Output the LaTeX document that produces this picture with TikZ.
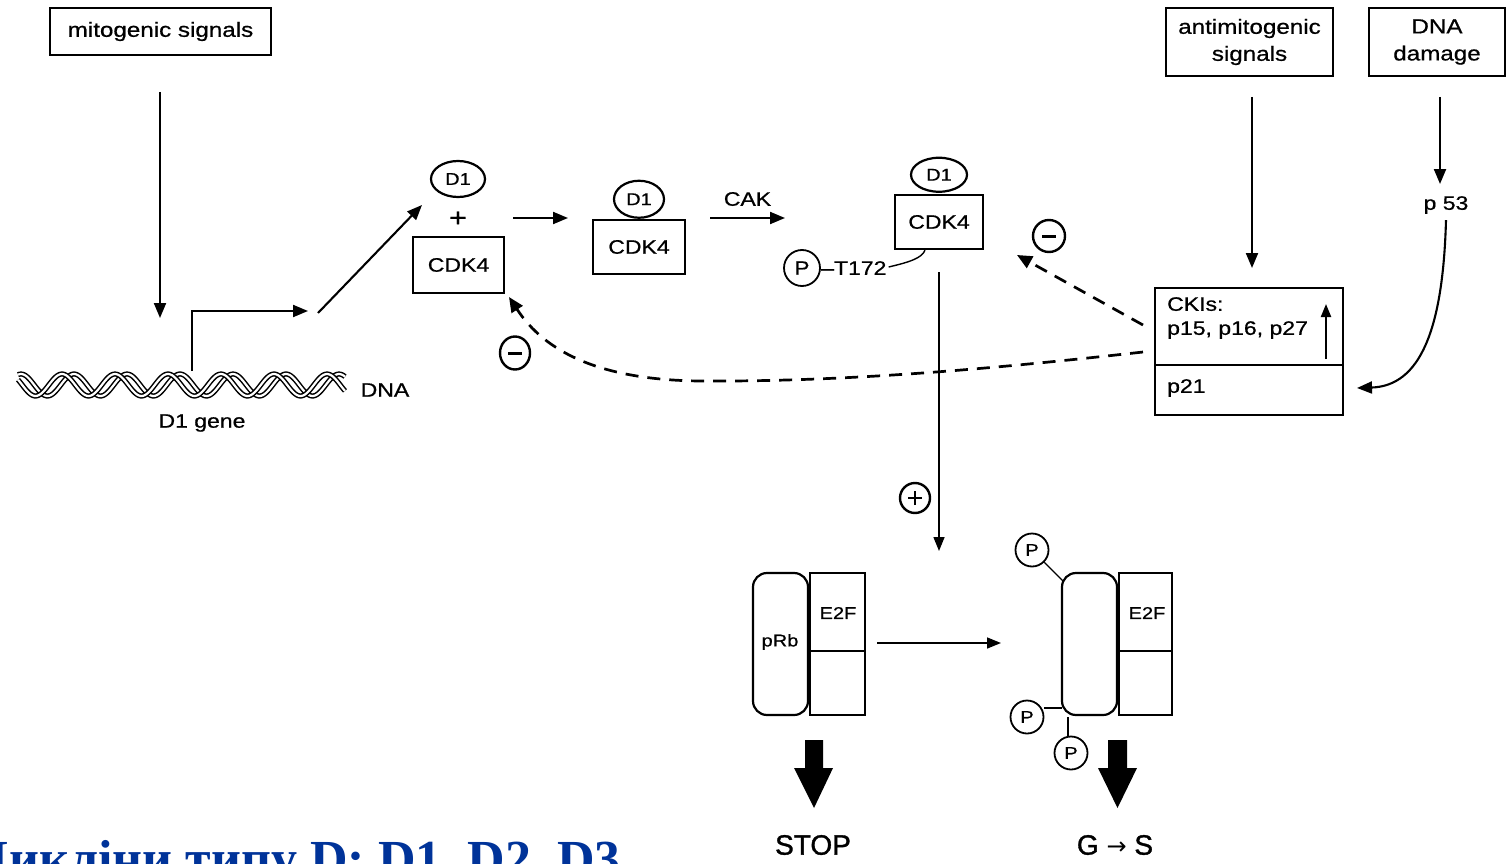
\documentclass[tikz,border=0pt]{standalone}
\usepackage{fontspec}
\setmainfont{Liberation Sans}[FakeStretch=1.18, FakeBold=0.7]
\newfontfamily\plainsans{Liberation Sans}[FakeBold=1.2]
\newfontfamily\arrowfont{DejaVu Sans}
\newfontfamily\titlefont{Liberation Serif}
\usetikzlibrary{arrows.meta,shapes.geometric}
\definecolor{titleblue}{RGB}{0,51,153}
\begin{document}
\begin{tikzpicture}[x=1pt,y=-1pt,
  txt/.style={font=\fontsize{19.5}{23}\selectfont, inner sep=0pt},
  bigtxt/.style={font=\fontsize{20.5}{27}\selectfont, inner sep=0pt, align=center},
  boxn/.style={draw, line width=2.3pt, inner sep=0pt, font=\fontsize{19.5}{23}\selectfont},
  dnode/.style={draw, ellipse, line width=2.2pt, inner sep=0pt, font=\fontsize{17}{20}\selectfont},
  pnode/.style={draw, circle, line width=1.8pt, inner sep=0pt, minimum size=33pt, font=\fontsize{17}{18}\selectfont},
  signnode/.style={draw, circle, line width=2.4pt, inner sep=0pt, minimum size=30pt},
  arr/.style={line width=2.1pt, -{Triangle[length=15pt,width=12pt]}},
  thinarr/.style={line width=1.5pt, -{Triangle[length=14pt,width=11pt]}},
  dasharr/.style={line width=2.7pt, dash pattern=on 13pt off 9pt, -{Triangle[length=15pt,width=13pt]}},
  strand/.style={line width=1.5pt, double=white, double distance=2.2pt},
  bigarrow/.style={fill=black, draw=none}
]
\useasboundingbox (0,0) rectangle (1507,864);
\clip (0,0) rectangle (1507,864);
\fill[white] (0,0) rectangle (1507,864);

% ---------- top signal boxes ----------
\node[boxn, bigtxt, draw, line width=2.3pt, minimum width=221pt, minimum height=47pt] (mito) at (160.5,31.5) {mitogenic signals};
\node[boxn, bigtxt, draw, line width=2.3pt, minimum width=167pt, minimum height=68pt] (anti) at (1249.5,42) {antimitogenic\\signals};
\node[boxn, bigtxt, draw, line width=2.3pt, minimum width=136pt, minimum height=68pt] (dnad) at (1437,42) {DNA\\damage};

% ---------- DNA ----------
\draw[strand] plot[domain=18:345, samples=220] (\x, {385-11*cos(6.79245*(\x-74))});
\draw[strand] plot[domain=18:345, samples=220] (\x, {385-11*cos(6.79245*(\x-62))});
\node[txt] (dna) at (385,390) {DNA};
\node[txt] (gene) at (202,423) {D1 gene};

\coordinate (m1) at (160,92);
\coordinate (m2) at (160,318);
\draw[arr] (m1) -- (m2);

\coordinate (pr0) at (192,371);
\coordinate (pr1) at (192,311);
\coordinate (pr2) at (308,311);
\draw[arr] (pr0) -- (pr1) -- (pr2);

\coordinate (dg0) at (318,313);

% ---------- D1 + CDK4 ----------
\node[dnode, minimum width=54pt, minimum height=36pt] (d1a) at (458,179) {D1};
\node[txt, font=\fontsize{26}{26}\selectfont] (plus) at (458,219) {+};
\node[boxn, minimum width=91pt, minimum height=56pt] (cdka) at (458.5,265) {CDK4};
\coordinate (dg1) at (422,205);
\draw[arr] (dg0) -- (dg1);

\coordinate (h1a) at (513,218);
\coordinate (h1b) at (568,218);
\draw[arr] (h1a) -- (h1b);

\node[boxn, minimum width=92pt, minimum height=54pt] (cdkb) at (639,247) {CDK4};
\node[dnode, minimum width=50pt, minimum height=37pt, anchor=south] (d1b) at (cdkb.north) {D1};

\coordinate (h2a) at (710,218);
\coordinate (h2b) at (785,218);
\draw[arr] (h2a) -- (h2b) node[midway, above=11pt, txt] (cak) {CAK};

\node[boxn, minimum width=88pt, minimum height=54pt] (cdkc) at (939,222) {CDK4};
\node[dnode, minimum width=56pt, minimum height=34pt, anchor=south] (d1c) at ([yshift=1pt]cdkc.north) {D1};
\node[pnode, minimum size=36pt, font=\fontsize{19}{20}\selectfont] (pt) at (802,268) {P};
\node[txt, anchor=west] (t172) at (821,268) {–T172};
\draw[line width=1.4pt] (t172.east) ++(2,-1) .. controls (910,262) and (922,258) .. ([xshift=-14pt]cdkc.south);

% ---------- inhibitors ----------
\coordinate (a1) at (1252,97);
\coordinate (a2) at (1252,268);
\draw[arr] (a1) -- (a2);
\coordinate (n1) at (1440,97);
\coordinate (n2) at (1440,184);
\draw[arr] (n1) -- (n2);
\node[txt] (p53) at (1446,205) {p 53};

\draw[line width=2.4pt] (1155,288) rectangle (1343,415);
\draw[line width=2.4pt] (1155,365) -- (1343,365);
\node[txt, anchor=north west, align=left, font=\fontsize{19.5}{24}\selectfont] (ckis) at (1167,297) {CKIs:\\p15, p16, p27};
\node[txt, anchor=west] (p21) at (1167,388) {p21};
\coordinate (ckw2) at (1143,325);
\coordinate (ckw3) at (1143,352);
\coordinate (cke) at (1357,388);
\coordinate (up0) at (1326,359);
\coordinate (up1) at (1326,304);
\draw[line width=2.2pt, -{Triangle[length=13pt,width=10pt]}] (up0) -- (up1);

\draw[arr] ([yshift=-6pt]p53.south) .. controls (1443,330) and (1420,386) .. (cke);

% dashed inhibition arrows
\coordinate (inh1) at (1017,255);
\draw[dasharr] (ckw2) -- (inh1);
\node[signnode, minimum size=32pt] (minus1) at (1049,236) {};
\draw[line width=3pt] ([xshift=-7pt]minus1.center) -- ([xshift=7pt]minus1.center);

\coordinate (inh2) at (509,297);
\draw[dasharr] (ckw3) .. controls (1000,368) and (850,382) .. (700,381) .. controls (600,380) and (545,352) .. (inh2);
\node[signnode, minimum width=30pt, minimum height=33pt, ellipse] (minus2) at (515,353) {};
\draw[line width=3pt] ([xshift=-7pt]minus2.center) -- ([xshift=7pt]minus2.center);

% ---------- activation of pRb phosphorylation ----------
\coordinate (v0) at (939,272);
\coordinate (v1) at (939,551);
\draw[thinarr] (v0) -- (v1);
\node[signnode] (plus1) at (915,498) {};
\draw[line width=2.4pt] ([xshift=-7pt]plus1.center) -- ([xshift=7pt]plus1.center);
\draw[line width=2.4pt] ([yshift=-7pt]plus1.center) -- ([yshift=7pt]plus1.center);

% ---------- pRb / E2F complexes ----------
\draw[line width=2.2pt, rounded corners=14pt] (753,573) rectangle (808,715);
\draw[line width=2.2pt] (810,573) rectangle (865,715);
\draw[line width=2.2pt] (810,651) -- (865,651);
\node[txt, font=\fontsize{17}{20}\selectfont] (prb) at (780,642) {pRb};
\node[txt, font=\fontsize{17}{20}\selectfont] (e2fa) at (838,613) {E2F};

\coordinate (r0) at (877,643);
\coordinate (r1) at (1001,643);
\draw[thinarr] (r0) -- (r1);

\draw[line width=2.2pt, rounded corners=14pt] (1062,573) rectangle (1117,715);
\draw[line width=2.2pt] (1119,573) rectangle (1172,715);
\draw[line width=2.2pt] (1119,651) -- (1172,651);
\node[txt, font=\fontsize{17}{20}\selectfont] (e2fb) at (1147,613) {E2F};

\node[pnode] (pa) at (1032,550) {P};
\node[pnode] (pb) at (1027,717) {P};
\node[pnode] (pc) at (1071,753) {P};
\coordinate (ca) at (1063,581);
\coordinate (cb) at (1062,708);
\coordinate (cc) at (1068,717);
\draw[line width=1.4pt] (pa) -- (ca);
\draw[line width=1.4pt] (pb.east) ++(0,-9) -- (cb);
\draw[line width=1.4pt] (pc.north) ++(-3,0) -- (cc);

% big arrows
\fill[bigarrow] (805,740) -- (823,740) -- (823,768) -- (833,768) -- (814,808) -- (794,768) -- (805,768) -- cycle;
\fill[bigarrow] (1108,740) -- (1127,740) -- (1127,768) -- (1137,768) -- (1117.5,808) -- (1098,768) -- (1108,768) -- cycle;
\node[font=\plainsans\fontsize{28}{30}\selectfont, inner sep=0pt] (stop) at (813,845) {STOP};
\node[font=\plainsans\fontsize{28}{30}\selectfont, inner sep=0pt] (gs) at (1115,845) {G {\arrowfont\fontsize{24}{28}\selectfont →} S};

% ---------- title (cut off) ----------
\node[anchor=base east, inner sep=0pt, text=titleblue, font=\titlefont\bfseries\fontsize{52}{60}\selectfont] (title) at (621,876) {Цикліни типу D: D1, D2, D3};
\end{tikzpicture}
\end{document}
